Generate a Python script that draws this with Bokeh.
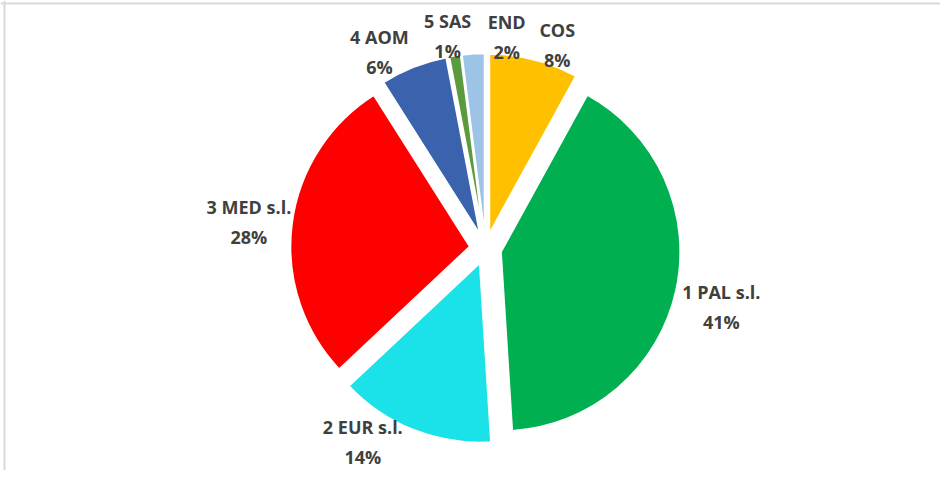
import math
from bokeh.plotting import figure
from bokeh.models import Range1d, Span, ColumnDataSource
from bokeh.core.properties import value
from bokeh.embed import file_html
from bokeh.resources import INLINE

# ---- data (clockwise from 12 o'clock) ----
categories = ["COS", "1 PAL s.l.", "2 EUR s.l.", "3 MED s.l.", "4 AOM", "5 SAS", "END"]
percent = [8, 41, 14, 28, 6, 1, 2]
colors = ["#FFC000", "#00B050", "#1BE1E8", "#FF0000", "#3A62AD", "#5B9B3E", "#9DC3E6"]

# ---- layout ----
W, H = 940, 470
CX, CY = 485, 222          # pie centre (data = pixel units)
R = 179                     # radius
EXPLODE = 16                # explosion distance
LABEL_NUDGE = [5.0, 1.4, 10.8, -0.9, -6.8, -1.1, 9.3]   # degrees from bisector
LABEL_DIST = [216, 243, 229, 238, 223, 216, 213]
LINE_GAP = 15

total = float(sum(percent))
xs, ys, starts, ends = [], [], [], []
lx, ly, names, pcts = [], [], [], []
cum = 0.0
for i, v in enumerate(percent):
    t1 = cum / total * 360.0
    cum += v
    t2 = cum / total * 360.0
    mid = (t1 + t2) / 2.0
    mr = math.radians(mid)
    xs.append(CX + EXPLODE * math.sin(mr))
    ys.append(CY + EXPLODE * math.cos(mr))
    starts.append(math.radians(90.0 - t2))
    ends.append(math.radians(90.0 - t1))
    la = math.radians(mid + LABEL_NUDGE[i])
    lx.append(CX + LABEL_DIST[i] * math.sin(la))
    ly.append(CY + LABEL_DIST[i] * math.cos(la))
    names.append(categories[i])
    pcts.append(f"{v}%")

src = ColumnDataSource(dict(x=xs, y=ys, start=starts, end=ends, color=colors))
lab = ColumnDataSource(dict(x=lx, y=ly, name=names, pct=pcts))

p = figure(width=W, height=H, output_backend="svg", toolbar_location=None,
           x_range=Range1d(0, W), y_range=Range1d(0, H),
           min_border=0, min_border_left=0, min_border_right=0,
           min_border_top=0, min_border_bottom=0)
p.xaxis.visible = False
p.yaxis.visible = False
p.grid.visible = False
p.outline_line_color = None
p.background_fill_color = "white"
p.border_fill_color = "white"

p.wedge(x="x", y="y", radius=R, start_angle="start", end_angle="end",
        fill_color="color", line_color="white", line_width=1.5, source=src)

font = value("Open Sans")
p.text(x="x", y="y", text="name", source=lab, text_font=font,
       text_font_style="bold", text_font_size="18px", text_color="#404040",
       text_align="center", text_baseline="middle", y_offset=-LINE_GAP)
p.text(x="x", y="y", text="pct", source=lab, text_font=font,
       text_font_style="bold", text_font_size="18px", text_color="#404040",
       text_align="center", text_baseline="middle", y_offset=LINE_GAP)

# chart frame (top and left edges visible in the reference)
p.add_layout(Span(location=4, dimension="height", line_color="#D9D9D9", line_width=2))
p.add_layout(Span(location=H - 3, dimension="width", line_color="#D9D9D9", line_width=2))

open("out.html", "w").write(file_html(p, INLINE))
